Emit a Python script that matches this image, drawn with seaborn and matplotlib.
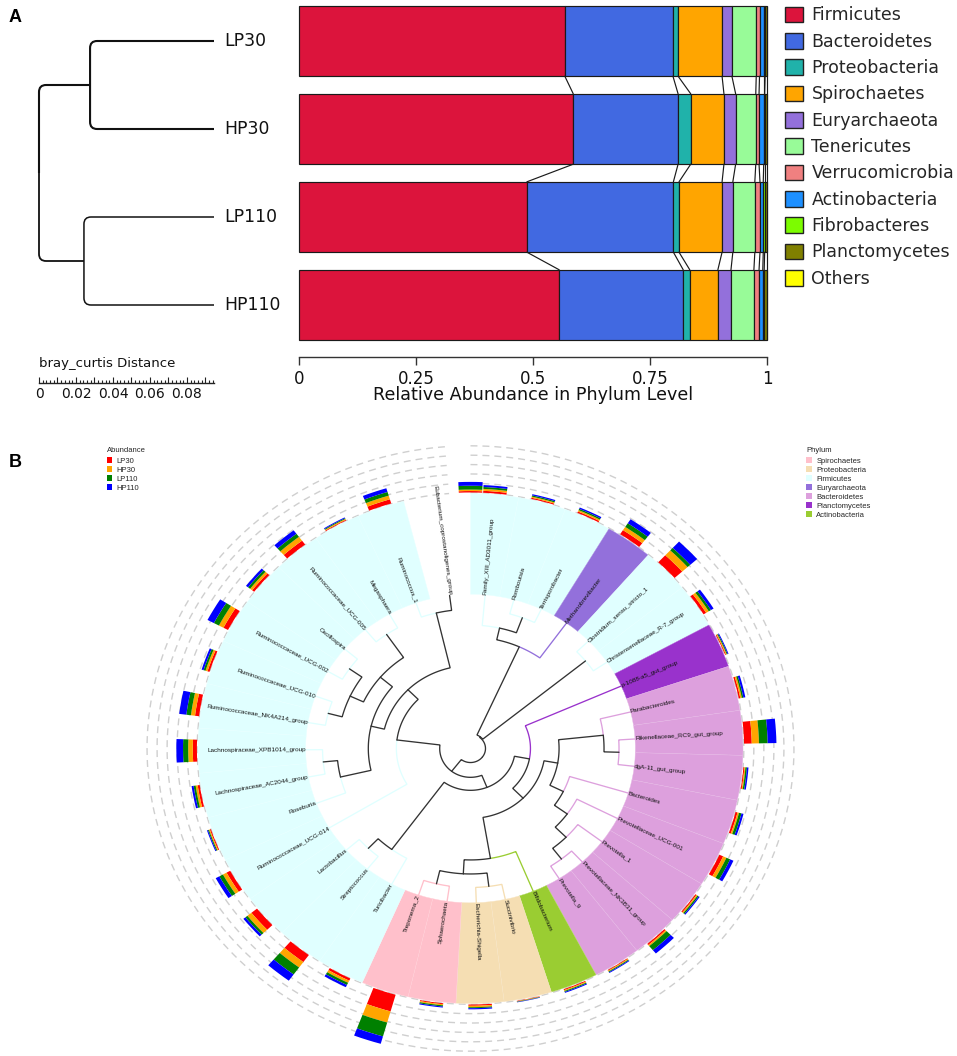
import matplotlib

matplotlib.use("Agg")

import matplotlib.pyplot as plt
import numpy as np
import pandas as pd
import seaborn as sns
from matplotlib.colors import to_rgb
from matplotlib.patches import Patch, PathPatch
from matplotlib.path import Path

W, H = 957, 1056

# Panel A values
samples = ["LP30", "HP30", "LP110", "HP110"]
phyla = ["Firmicutes", "Bacteroidetes", "Proteobacteria", "Spirochaetes", "Euryarchaeota", "Tenericutes",
         "Verrucomicrobia", "Actinobacteria", "Fibrobacteres", "Planctomycetes", "Others"]
phylum_colors = ["#DC143C", "#4169E1", "#20B2AA", "#FFA500", "#9370DB", "#98FB98",
                 "#F08080", "#1E90FF", "#7CFC00", "#808000", "#FFFF00"]
lp30 = [0.568, 0.231, 0.011, 0.094, 0.021, 0.052, 0.007, 0.009, 0.003, 0.003, 0.001]
hp30 = [0.586, 0.224, 0.027, 0.071, 0.025, 0.043, 0.007, 0.010, 0.002, 0.004, 0.001]
lp110 = [0.487, 0.313, 0.012, 0.092, 0.023, 0.047, 0.011, 0.007, 0.003, 0.004, 0.001]
hp110 = [0.556, 0.265, 0.014, 0.060, 0.028, 0.049, 0.011, 0.008, 0.003, 0.005, 0.001]
xticks_a = [0, 0.25, 0.5, 0.75, 1]
xticklabels_a = ["0", "0.25", "0.5", "0.75", "1"]

# sample clustering: heights of the joins on the bray_curtis scale
join_30 = 0.0276
join_110 = 0.0243
leaf_dist = 0.0946

# Panel B, clockwise from the top
leaf_names = ["Family_XIII_AD3011_group", "Romboutsia", "Terrisporobacter", "Methanobrevibacter",
              "Clostridium_sensu_stricto_1", "Christensenellaceae_R-7_group", "p-1088-a5_gut_group",
              "Parabacteroides", "Rikenellaceae_RC9_gut_group", "dgA-11_gut_group", "Bacteroides",
              "Prevotellaceae_UCG-001", "Prevotella_1", "Prevotellaceae_NK3B31_group", "Prevotella_9",
              "Bifidobacterium", "Succinivibrio", "Escherichia-Shigella", "Sphaerochaeta", "Treponema_2",
              "Turicibacter", "Streptococcus", "Lactobacillus", "Ruminococcaceae_UCG-014", "Roseburia",
              "Lachnospiraceae_AC2044_group", "Lachnospiraceae_XPB1014_group", "Ruminococcaceae_NK4A214_group",
              "Ruminococcaceae_UCG-010", "Ruminococcaceae_UCG-002", "Oscillospira", "Ruminococcaceae_UCG-005",
              "Megasphaera", "Ruminococcus_1", "Eubacterium_coprostanoligenes_group"]
leaf_phyla = ["Firmicutes"] * 3 + ["Euryarchaeota"] + ["Firmicutes"] * 2 + ["Planctomycetes"] \
    + ["Bacteroidetes"] * 8 + ["Actinobacteria"] + ["Proteobacteria"] * 2 + ["Spirochaetes"] * 2 \
    + ["Firmicutes"] * 14 + [None]

abund_lp30 = [2, 1.2, 1.5, 5, 10, 3, 0.8, 1.5, 7.5, 1, 2, 4, 1.2, 1.5, 0.8, 1, 0.4, 1.3, 1, 18,
              2.5, 9, 7, 4, 1, 2, 4, 4, 2, 5, 2.5, 5, 0.8, 4.5, 1.5]
abund_hp30 = [2, 1.2, 1.5, 4, 7, 3, 0.9, 1.5, 7, 1, 1.5, 3.5, 1.2, 1.5, 0.9, 1, 0.4, 1.5, 1.2, 12,
              2.5, 7, 5, 4, 1, 2, 4.5, 4, 2, 5, 2.5, 5, 0.9, 4, 1.5]
abund_lp110 = [2, 1.3, 1.5, 4.5, 3.5, 2.5, 0.9, 1.5, 8.5, 1.5, 2.5, 4, 1.4, 5.5, 0.9, 1, 0.4, 1, 1.2, 15,
               2.5, 9, 2.5, 4, 1, 2, 5, 4.5, 2, 5.5, 2.5, 4, 0.9, 4, 4]
abund_hp110 = [2, 1.3, 1.5, 5, 9, 3, 0.9, 2, 8.5, 1.5, 2, 3.5, 1.2, 4.5, 0.9, 1, 0.4, 1.2, 1.1, 8,
               2.5, 8, 2.5, 4, 1, 2, 6.5, 7, 2, 7, 2.5, 4.5, 0.9, 4, 4]
abund_colors = ["#FF0000", "#FFA500", "#008000", "#0000FF"]

tree = (0.055, [
    (0.058, [
        (0.437, [
            (0.484, ["Family_XIII_AD3011_group", (0.547, ["Romboutsia", "Terrisporobacter"])]),
            "Methanobrevibacter",
        ]),
        (0.544, ["Clostridium_sensu_stricto_1", "Christensenellaceae_R-7_group"]),
    ]),
    (0.113, [
        (0.164, [
            (0.22, [
                "p-1088-a5_gut_group",
                (0.274, [
                    (0.325, [
                        (0.49, ["Parabacteroides", (0.545, ["Rikenellaceae_RC9_gut_group", "dgA-11_gut_group"])]),
                        (0.38, ["Bacteroides", (0.438, ["Prevotellaceae_UCG-001", (0.494, [
                            "Prevotella_1", (0.547, ["Prevotellaceae_NK3B31_group", "Prevotella_9"])])])]),
                    ]),
                    (0.437, ["Bifidobacterium", (0.492, [
                        (0.545, ["Succinivibrio", "Escherichia-Shigella"]),
                        (0.545, ["Sphaerochaeta", "Treponema_2"]),
                    ])]),
                ]),
            ]),
            (0.49, ["Turicibacter", (0.542, ["Streptococcus", "Lactobacillus"])]),
        ]),
        (0.272, [
            "Ruminococcaceae_UCG-014",
            (0.325, [
                (0.375, [
                    (0.49, ["Roseburia", (0.543, ["Lachnospiraceae_AC2044_group", "Lachnospiraceae_XPB1014_group"])]),
                    (0.433, [
                        (0.487, [
                            (0.54, ["Ruminococcaceae_NK4A214_group", "Ruminococcaceae_UCG-010"]),
                            (0.543, ["Ruminococcaceae_UCG-002", "Oscillospira"]),
                        ]),
                        (0.543, ["Ruminococcaceae_UCG-005", "Megasphaera"]),
                    ]),
                ]),
                (0.546, ["Ruminococcus_1", "Eubacterium_coprostanoligenes_group"]),
            ]),
        ]),
    ]),
])

legend_phyla_b = ["Spirochaetes", "Proteobacteria", "Firmicutes", "Euryarchaeota", "Bacteroidetes",
                  "Planctomycetes", "Actinobacteria"]
clade_colors = {"Spirochaetes": "#FFC0CB", "Proteobacteria": "#F5DEB3", "Firmicutes": "#E0FFFF",
                "Euryarchaeota": "#9370DB", "Bacteroidetes": "#DDA0DD", "Planctomycetes": "#9932CC",
                "Actinobacteria": "#9ACD32"}

sns.set_theme(style="white")
plt.rcParams["font.family"] = ["DejaVu Sans"]
plt.rcParams["patch.force_edgecolor"] = False

fig = plt.figure(figsize=(W / 100, H / 100), dpi=100, facecolor="white")


def px_axes(left, top, right, bottom, **kwargs):
    """Axes placed with image pixel coordinates."""
    return fig.add_axes([left / W, 1 - bottom / H, (right - left) / W, (bottom - top) / H], **kwargs)


def fig_text(x, y, s, **kwargs):
    return fig.text(x / W, 1 - y / H, s, **kwargs)


# --- Panel A: stacked bars ---
df = pd.DataFrame({"sample": np.repeat(samples, len(phyla)),
                   "phylum": phyla * len(samples),
                   "value": lp30 + hp30 + lp110 + hp110})
stack = df.pivot(index="sample", columns="phylum", values="value").loc[samples, phyla].to_numpy()
cum = stack.cumsum(axis=1)
cum = cum / cum[:, -1:]

bar_h = 0.8
ax = px_axes(299, 0, 767, 356.7)
for j, (name, color) in enumerate(zip(phyla, phylum_colors)):
    sub = df[df["phylum"] == name]
    left = cum[:, j - 1] if j else np.zeros(len(samples))
    sns.barplot(data=sub, y="sample", x="value", order=samples, orient="h", left=left, color=color,
                saturation=1, width=bar_h, edgecolor="#1a1a1a", linewidth=0.85, clip_on=False, ax=ax)

# lines joining the same boundary on neighbouring bars
for i in range(len(samples) - 1):
    for j in range(len(phyla) - 1):
        ax.plot([cum[i, j], cum[i + 1, j]], [i + bar_h / 2, i + 1 - bar_h / 2], color="#1a1a1a", lw=0.85,
                clip_on=False)

ax.set_xlim(0, 1)
ax.set_ylim((356.7 - 41) / 88, -41 / 88)
ax.set_yticks([])
ax.set_ylabel("")
ax.set_xticks(xticks_a)
ax.set_xticklabels(xticklabels_a, fontsize=12)
ax.tick_params(axis="x", bottom=True, length=5.8, width=1, color="#333333", pad=3.5, labelcolor="#111111")
ax.set_xlabel("Relative Abundance in Phylum Level", fontsize=12.6, color="#111111", labelpad=-1.2)
sns.despine(ax=ax, left=True)
ax.spines["bottom"].set_color("#333333")
ax.spines["bottom"].set_linewidth(1)
ax.patch.set_alpha(0)

handles = [Patch(facecolor=c, edgecolor="#222222", linewidth=1.0, label=n) for n, c in zip(phyla, phylum_colors)]
fig.legend(handles=handles, loc="upper left", bbox_to_anchor=(785 / W, 1 - 6.5 / H), frameon=False, fontsize=12.55,
           handlelength=1.02, handleheight=1.02, labelspacing=0.478, handletextpad=0.5, borderpad=0, borderaxespad=0)

# --- Panel A: dendrogram with its scale ---
dax = px_axes(39, 0, 214, 383)
dax.set_xlim(0, leaf_dist)
dax.set_ylim((383 - 41) / 88, -41 / 88)


def elbow(ax_, x0, y_parent, y_child, x1, lw, color="#111111"):
    """Bracket arm with a rounded corner, as in the sample tree."""
    rx, ry = 0.0038, 0.08 * np.sign(y_child - y_parent)
    verts = [(x0, y_parent), (x0, y_child - ry), (x0, y_child), (x0 + rx, y_child), (x1, y_child)]
    codes = [Path.MOVETO, Path.LINETO, Path.CURVE3, Path.CURVE3, Path.LINETO]
    ax_.add_patch(PathPatch(Path(verts, codes), fill=False, lw=lw, edgecolor=color, capstyle="butt", clip_on=False))


elbow(dax, 0, 1.5, 0.5, join_30, 1.5)
elbow(dax, 0, 1.5, 2.5, join_110, 1.3)
elbow(dax, join_30, 0.5, 0, leaf_dist, 1.5)
elbow(dax, join_30, 0.5, 1, leaf_dist, 1.5)
elbow(dax, join_110, 2.5, 2, leaf_dist, 1.1)
elbow(dax, join_110, 2.5, 3, leaf_dist, 1.1)
for i, name in enumerate(samples):
    dax.annotate(name, (leaf_dist, i), xytext=(7.2, 0), textcoords="offset points", va="center", ha="left",
                 fontsize=12.4, color="#111111")

dax.set_yticks([])
dax.set_xticks(np.arange(0, 0.095, 0.01))
dax.set_xticks(np.arange(0, 0.095, 0.002), minor=True)
dax.set_xticklabels(["0", "", "0.02", "", "0.04", "", "0.06", "", "0.08", ""], fontsize=10)
dax.tick_params(axis="x", which="major", bottom=True, direction="in", length=4.5, width=0.8, color="#222222",
                pad=2.6, labelcolor="#111111")
dax.tick_params(axis="x", which="minor", bottom=True, direction="in", length=2.5, width=0.8, color="#222222")
sns.despine(ax=dax, left=True)
dax.spines["bottom"].set_color("#222222")
dax.spines["bottom"].set_linewidth(1)
dax.patch.set_alpha(0)
fig_text(39, 364, "bray_curtis Distance", fontsize=9.5, va="center", ha="left", color="#111111")

# --- Panel B: circular tree. The source image is stretched, so the polar box is not square ---
cx, cy = 470.5, 748.5
rx_px, ry_px = 272.5, 255
rmax = 1.25
pax = px_axes(cx - rx_px * rmax, cy - ry_px * rmax, cx + rx_px * rmax, cy + ry_px * rmax, projection="polar")
pax.set_aspect("auto")
pax.set_xlim(0, 2 * np.pi)
pax.set_ylim(0, rmax)
pax.set_autoscale_on(False)
pax.set_axis_off()
pax.patch.set_alpha(0)

inner_r = 0.605
slot = 10.17
leaf_deg = {name: 84.9 - slot * k for k, name in enumerate(leaf_names[:-1])}
leaf_deg[leaf_names[-1]] = leaf_deg[leaf_names[-2]] - 12
leaf_color = dict(zip(leaf_names, leaf_phyla))

# dashed guide rings, open just left of the top
ring_theta = np.radians(np.linspace(90, -265.5, 720))
for k in range(6):
    pax.plot(ring_theta, np.full_like(ring_theta, 1.003 + 0.0368 * k), color="#cfcfcf", lw=1.0,
             linestyle=(0, (5, 3.6)), zorder=0)

# clade wedges; neighbours of one clade are split by a barely lighter seam
for name, phylum in zip(leaf_names, leaf_phyla):
    if phylum is None:
        continue
    fill = np.array(to_rgb(clade_colors[phylum]))
    pax.bar(np.radians(leaf_deg[name]) % (2 * np.pi), 1 - inner_r, width=np.radians(slot), bottom=inner_r,
            color=fill, edgecolor=tuple(fill + (1 - fill) * 0.25), linewidth=0.3, zorder=1)

# abundance stacks outside the wedges
px_unit = 1 / 265
for k, name in enumerate(leaf_names):
    # the last leaf's stack sits right at the top of the circle
    th = 90 if k == len(leaf_names) - 1 else leaf_deg[name]
    base = 1.004
    for vals, color in zip([abund_lp30, abund_hp30, abund_lp110, abund_hp110], abund_colors):
        h = vals[k] * px_unit
        pax.bar(np.radians(th) % (2 * np.pi), h, width=np.radians(4.9), bottom=base, color=color, linewidth=0, zorder=3)
        base += h


def draw_node(node):
    """Draw a clade and return (theta in degrees, radius, line colour)."""
    if isinstance(node, str):
        phylum = leaf_color[node]
        return leaf_deg[node], inner_r, clade_colors[phylum] if phylum else "#333333"
    r, children = node
    placed = [draw_node(child) for child in children]
    theta = (placed[0][0] + placed[-1][0]) / 2
    for child_theta, child_r, color in placed:
        arc = np.radians(np.linspace(theta, child_theta, 40))
        pax.plot(np.r_[arc, arc[-1]], np.r_[np.full(40, r), child_r], color=color, lw=0.95, zorder=2,
                 solid_joinstyle="miter")
    return theta, r, "#333333"


draw_node(tree)

# leaf labels run along the radius, starting at the inner edge of the wedges
for name in leaf_names:
    t = np.radians(leaf_deg[name])
    screen = np.degrees(np.arctan2(np.sin(t) * ry_px, np.cos(t) * rx_px))
    right_side = np.cos(t) >= 0
    pax.text(t, inner_r, name, rotation=screen if right_side else screen + 180, rotation_mode="anchor",
             ha="left" if right_side else "right", va="center", fontsize=4.6, color="#111111",
             family="Liberation Sans", zorder=4)

# small legends of panel B
abund_handles = [Patch(facecolor=c, edgecolor="none", label=n) for n, c in zip(samples, abund_colors)]
clade_handles = [Patch(facecolor=clade_colors[n], edgecolor="none", label=n) for n in legend_phyla_b]
for handles, title, x in [(abund_handles, "Abundance", 106.5), (clade_handles, "Phylum", 806)]:
    leg = fig.legend(handles=handles, title=title, loc="upper left", bbox_to_anchor=(x / W, 1 - 446.5 / H),
                     frameon=False, title_fontsize=5.5, handlelength=0.75, handleheight=0.75,
                     labelspacing=0.2, handletextpad=0.6, borderpad=0, borderaxespad=0,
                     prop={"family": "Liberation Sans", "size": 5.5})
    leg.get_title().set_family("Liberation Sans")
    leg._legend_box.align = "left"
    leg._legend_box.sep = 2.7

fig_text(8.5, 17, "A", fontsize=13, fontweight="bold", family="Liberation Sans", va="center", color="#000000")
fig_text(8.5, 462.5, "B", fontsize=13, fontweight="bold", family="Liberation Sans", va="center", color="#000000")

fig.savefig("out.png", dpi=100)
plt.close(fig)
